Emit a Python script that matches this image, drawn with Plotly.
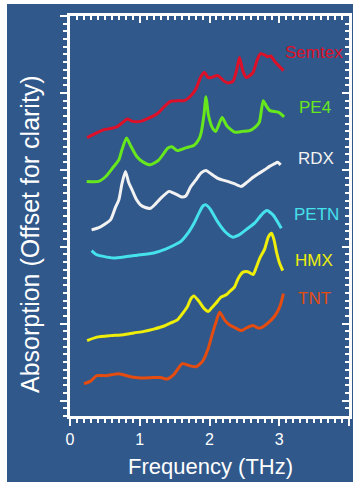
import plotly.graph_objects as go

# THz absorption spectra of common explosives, offset vertically for clarity
semtex_x = [0.245, 0.36, 0.48, 0.60, 0.674, 0.76, 0.82, 0.90, 1.01, 1.12, 1.25, 1.35, 1.44, 1.55,
            1.64, 1.72, 1.805, 1.87, 1.925, 1.98, 2.02, 2.12, 2.20, 2.26, 2.335, 2.39, 2.43,
            2.48, 2.53, 2.62, 2.68, 2.73, 2.80, 2.83, 2.88, 2.935, 3.06]
semtex_y = [3.42, 3.47, 3.52, 3.54, 3.56, 3.62, 3.66, 3.63, 3.63, 3.67, 3.73, 3.82, 3.89, 3.90,
            3.90, 3.95, 4.05, 4.20, 4.27, 4.20, 4.20, 4.225, 4.16, 4.13, 4.15, 4.30, 4.46,
            4.28, 4.20, 4.26, 4.42, 4.51, 4.49, 4.47, 4.48, 4.41, 4.29]

pe4_x = [0.24, 0.41, 0.52, 0.625, 0.70, 0.745, 0.81, 0.866, 0.96, 1.05, 1.155, 1.275, 1.40,
         1.46, 1.54, 1.66, 1.78, 1.85, 1.88, 1.92, 1.95, 1.985, 2.045, 2.09, 2.18, 2.25, 2.36,
         2.47, 2.575, 2.66, 2.715, 2.77, 2.815, 2.865, 2.985, 3.07]
pe4_y = [2.85, 2.85, 2.92, 3.04, 3.13, 3.26, 3.415, 3.32, 3.17, 3.10, 3.065, 3.13, 3.28,
         3.30, 3.25, 3.285, 3.32, 3.40, 3.48, 3.71, 3.95, 3.71, 3.54, 3.50, 3.68, 3.57, 3.49,
         3.50, 3.51, 3.56, 3.62, 3.90, 3.83, 3.77, 3.75, 3.69]

rdx_x = [0.31, 0.43, 0.58, 0.65, 0.70, 0.745, 0.795, 0.84, 0.89, 0.955, 1.01, 1.08, 1.155,
         1.23, 1.30, 1.42, 1.48, 1.54, 1.59, 1.66, 1.73, 1.805, 1.88, 1.95, 2.02, 2.12, 2.18,
         2.26, 2.355, 2.455, 2.54, 2.62, 2.70, 2.79, 2.86, 2.935, 2.975, 3.02]
rdx_y = [2.22, 2.255, 2.35, 2.51, 2.61, 2.82, 2.98, 2.84, 2.74, 2.61, 2.545, 2.51, 2.50,
         2.56, 2.63, 2.72, 2.70, 2.675, 2.65, 2.66, 2.78, 2.87, 2.96, 2.99, 2.95, 2.89, 2.87,
         2.85, 2.82, 2.785, 2.84, 2.90, 2.95, 3.00, 3.045, 3.08, 3.10, 3.065]

petn_x = [0.31, 0.375, 0.48, 0.625, 0.795, 0.96, 1.20, 1.37, 1.49, 1.59, 1.685, 1.78, 1.85,
          1.905, 1.95, 2.01, 2.12, 2.225, 2.335, 2.425, 2.55, 2.65, 2.745, 2.82, 2.91, 2.975,
          3.03]
petn_y = [1.95, 1.90, 1.875, 1.855, 1.87, 1.89, 1.92, 1.97, 2.02, 2.07, 2.17, 2.31, 2.44,
          2.53, 2.545, 2.49, 2.32, 2.195, 2.125, 2.155, 2.24, 2.31, 2.415, 2.47, 2.415, 2.325,
          2.24]

hmx_x = [0.245, 0.385, 0.58, 0.77, 0.915, 1.06, 1.20, 1.35, 1.445, 1.54, 1.62, 1.685, 1.73,
         1.775, 1.85, 1.92, 1.985, 2.035, 2.095, 2.165, 2.24, 2.285, 2.36, 2.41, 2.48, 2.55,
         2.625, 2.67, 2.72, 2.79, 2.845, 2.89, 2.925, 2.96, 3.00, 3.05]
hmx_y = [0.78, 0.825, 0.845, 0.857, 0.88, 0.90, 0.93, 0.97, 1.01, 1.05, 1.14, 1.225, 1.32,
         1.36, 1.29, 1.20, 1.16, 1.21, 1.27, 1.345, 1.375, 1.415, 1.48, 1.585, 1.67, 1.675,
         1.64, 1.73, 1.85, 1.97, 2.13, 2.175, 2.09, 1.935, 1.80, 1.69]

tnt_x = [0.20, 0.29, 0.385, 0.53, 0.70, 0.865, 1.01, 1.20, 1.30, 1.395, 1.49, 1.61, 1.71,
         1.805, 1.90, 1.975, 2.045, 2.095, 2.145, 2.215, 2.28, 2.36, 2.455, 2.53, 2.625,
         2.695, 2.745, 2.84, 2.935, 3.01, 3.06]
tnt_y = [0.22, 0.25, 0.325, 0.325, 0.35, 0.31, 0.295, 0.30, 0.30, 0.28, 0.34, 0.48, 0.455,
         0.44, 0.51, 0.66, 0.88, 1.025, 1.15, 1.05, 0.99, 0.95, 0.91, 0.945, 0.975,
         0.945, 0.95, 1.01, 1.10, 1.225, 1.39]

names = ["Semtex", "PE4", "RDX", "PETN", "HMX", "TNT"]
colors = ["#dc1028", "#66e81c", "#f2f2f2", "#46e2ec", "#eeee0a", "#e44c10"]
series = [(semtex_x, semtex_y), (pe4_x, pe4_y), (rdx_x, rdx_y),
          (petn_x, petn_y), (hmx_x, hmx_y), (tnt_x, tnt_y)]
label_x = [3.50, 3.51, 3.53, 3.53, 3.50, 3.50]
label_y = [4.52, 3.81, 3.15, 2.42, 1.82, 1.33]

x_range = [0, 4]
y_range = [-0.2, 5]

BG = "#31588a"
WHITE = "white"
FONT = "Liberation Sans, Arial, sans-serif"

# plot area geometry in pixels
W, H = 353, 482
ML, MR, MT, MB = 70, 4, 16, 66
PW, PH = W - ML - MR, H - MT - MB


def px_to_paper(px, py):
    return (px - ML) / PW, (H - MB - py) / PH


fig = go.Figure()

for (xs, ys), name, col in zip(series, names, colors):
    fig.add_trace(go.Scatter(x=xs, y=ys, mode="lines", name=name,
                             line=dict(color=col, width=3, shape="spline", smoothing=0.6),
                             showlegend=False, hoverinfo="skip"))

# empty trace so the mirrored (top/right) axes get their own subplot
fig.add_trace(go.Scatter(x=[], y=[], xaxis="x2", yaxis="y2", showlegend=False,
                         hoverinfo="skip"))

for name, col, lx, ly in zip(names, colors, label_x, label_y):
    fig.add_annotation(x=lx, y=ly, text=name, showarrow=False,
                       font=dict(family=FONT, size=17, color=col),
                       xanchor="center", yanchor="middle")

# axis titles
tx, ty = px_to_paper(210, 466)
fig.add_annotation(xref="paper", yref="paper", x=tx, y=ty, text="Frequency (THz)",
                   showarrow=False, xanchor="center", yanchor="middle",
                   font=dict(family=FONT, size=22, color=WHITE))
tx, ty = px_to_paper(30, 234)
fig.add_annotation(xref="paper", yref="paper", x=tx, y=ty,
                   text="Absorption (Offset for clarity)", textangle=-90,
                   showarrow=False, xanchor="center", yanchor="middle",
                   font=dict(family=FONT, size=25, color=WHITE))

axis_common = dict(showline=True, linecolor=WHITE, linewidth=2.5, tickcolor=WHITE,
                   tickwidth=2, showgrid=False, zeroline=False, automargin=False)
minor_out = dict(ticks="outside", ticklen=4, dtick=0.1, tickcolor=WHITE, tickwidth=2)
minor_in = dict(ticks="inside", ticklen=4, dtick=0.1, tickcolor=WHITE, tickwidth=2)

fig.update_layout(
    width=W, height=H,
    margin=dict(l=ML, r=MR, t=MT, b=MB),
    paper_bgcolor="white",
    plot_bgcolor=BG,
    font=dict(family=FONT, color=WHITE),
    xaxis=dict(range=x_range, ticks="outside", ticklen=7, dtick=1, tick0=0,
               tickfont=dict(size=16, color=WHITE), minor=minor_out, **axis_common),
    yaxis=dict(range=y_range, ticks="outside", ticklen=7, dtick=1, tick0=0,
               showticklabels=False, minor=minor_out, **axis_common),
    xaxis2=dict(range=x_range, overlaying="x", side="top", anchor="y2",
                ticks="inside", ticklen=7, dtick=1, tick0=0, showticklabels=False,
                minor=minor_in, **axis_common),
    yaxis2=dict(range=y_range, overlaying="y", side="right", anchor="x2",
                ticks="inside", ticklen=7, dtick=1, tick0=0, showticklabels=False,
                minor=minor_in, **axis_common),
)

# dark blue panel behind the whole chart, leaving a thin white strip top and left
x0, y1 = px_to_paper(7, 4)
x1, y0 = px_to_paper(W + 5, H + 5)
fig.add_shape(type="rect", xref="paper", yref="paper", x0=x0, x1=x1, y0=y0, y1=y1,
              fillcolor=BG, line=dict(width=0), layer="below")

fig.write_html("out.html")
